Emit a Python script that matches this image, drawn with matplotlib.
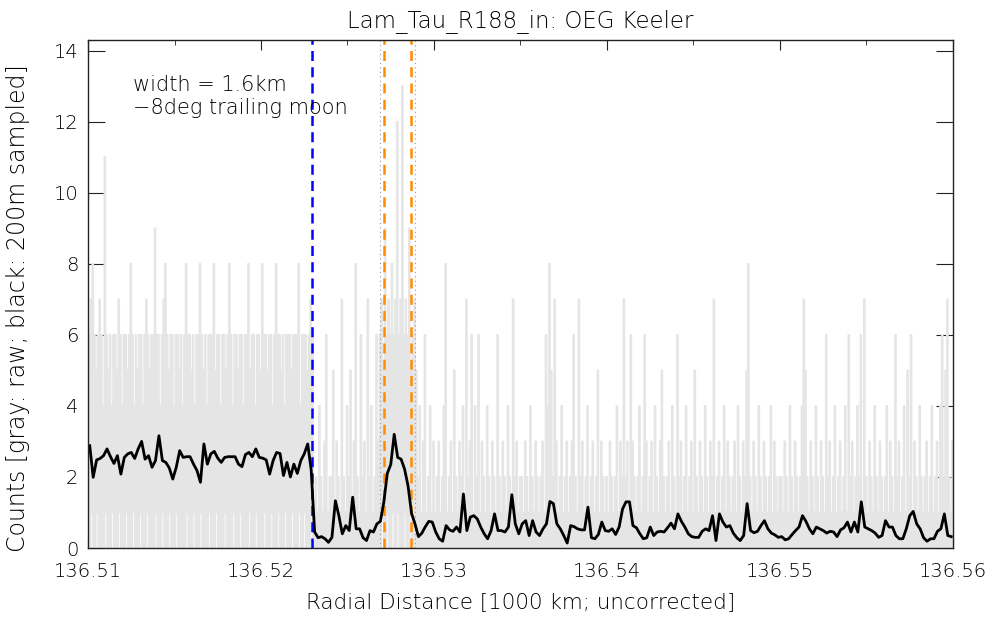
import matplotlib.pyplot as plt
import numpy as np

plt.rcParams['font.family'] = ['DejaVu Sans']
plt.rcParams['font.weight'] = 'light'
plt.rcParams['axes.titleweight'] = 'light'
plt.rcParams['axes.labelweight'] = 'light'

# smoothed profile, 200 m samples
black_start = 136.5101
black_step = 0.0002
black_counts = [
    2.88, 1.99, 2.48, 2.52, 2.60, 2.79, 2.57, 2.38, 2.60, 2.08, 2.55, 2.65, 2.69, 2.52,
    2.79, 3.00, 2.50, 2.60, 2.27, 2.46, 3.16, 2.46, 2.41, 2.25, 1.94, 2.27, 2.74, 2.55,
    2.57, 2.57, 2.36, 2.18, 1.85, 2.93, 2.36, 2.65, 2.72, 2.53, 2.41, 2.55, 2.57, 2.57,
    2.57, 2.36, 2.29, 2.63, 2.69, 2.57, 2.79, 2.55, 2.53, 2.48, 2.08, 2.46, 2.69, 2.66,
    2.04, 2.41, 2.00, 2.36, 2.10, 2.46, 2.65, 2.93, 2.20, 0.45, 0.29, 0.32, 0.26, 0.16,
    0.30, 1.33, 0.91, 0.40, 0.63, 0.49, 1.43, 0.54, 0.54, 0.29, 0.21, 0.49, 0.45, 0.68,
    0.75, 1.29, 2.10, 2.35, 3.20, 2.55, 2.50, 2.22, 1.75, 0.98, 0.68, 0.32, 0.42, 0.60,
    0.75, 0.73, 0.45, 0.26, 0.19, 0.63, 0.51, 0.47, 0.59, 0.45, 1.52, 0.49, 0.87, 0.91,
    0.82, 0.59, 0.40, 0.26, 0.49, 0.96, 0.49, 0.49, 0.45, 0.59, 1.50, 0.68, 0.40, 0.68,
    0.77, 0.35, 0.77, 0.45, 0.35, 0.54, 0.68, 1.31, 1.25, 0.68, 0.54, 0.35, 0.14, 0.63,
    0.60, 0.54, 0.51, 0.51, 1.15, 0.29, 0.26, 0.38, 0.73, 0.49, 0.47, 0.54, 0.38, 0.59,
    1.10, 1.30, 1.30, 0.63, 0.57, 0.40, 0.26, 0.29, 0.59, 0.35, 0.45, 0.47, 0.45, 0.57,
    0.70,
    0.54, 0.96, 0.75, 0.59, 0.40, 0.32, 0.30, 0.30, 0.47, 0.54, 0.49, 0.91, 0.21, 0.96,
    0.73, 0.59, 0.63, 0.42, 0.29, 0.21, 0.35, 1.25, 0.49, 0.43, 0.47, 0.63, 0.77, 0.54,
    0.42, 0.37, 0.30, 0.32, 0.23, 0.26, 0.38, 0.49, 0.59, 0.91, 0.75, 0.54, 0.40, 0.59,
    0.54, 0.49, 0.42, 0.47, 0.45, 0.32, 0.51, 0.57, 0.73, 0.45, 0.73, 0.45, 1.30, 0.59,
    0.54, 0.49, 0.42, 0.30, 0.35, 0.77, 0.59, 0.59, 0.35, 0.26, 0.26, 0.54, 0.91, 1.03,
    0.68, 0.54, 0.29, 0.19, 0.26, 0.26, 0.47, 0.54, 0.96, 0.35, 0.32,
]

# raw counts, 50 m samples, one hex digit per sample (5 km per row)
raw_start = 136.510025
raw_step = 0.00005
raw_rows = [
    "06 07 18 06 05 16 07 06 04 0b 16 05 06 04 16 06 05 07 16 04 06 06 15 06 08 06 14 06 05 06 16 04 06 07 16 05 06 06 09 16 06 04 06 17 08 06 05 16 06 04",
    "06 16 05 06 04 06 08 16 06 05 06 14 06 06 08 16 05 06 04 06 16 06 08 05 16 06 04 06 06 15 06 08 06 04 16 06 05 06 16 04 06 06 08 15 06 06 04 16 06 05",
    "08 06 16 05 06 06 14 06 08 06 16 05 06 04 16 06 06 05 16 06 06 08 14 06 06 16 05 06 07 16 01 02 01 04 02 01 03 06 01 02 02 05 01 03 02 01 07 02 01 04",
    "02 05 01 03 08 02 01 06 02 03 01 07 02 04 01 02 06 03 06 07 15 09 06 17 06 08 16 07 0c 16 07 0d 06 17 06 09 15 06 07 05 02 04 01 03 06 01 02 04 01 03",
    "01 02 03 01 02 04 08 01 02 03 01 05 02 01 03 02 04 01 07 02 03 06 01 04 02 06 01 03 02 01 04 02 01 03 02 01 06 02 01 03 02 01 04 02 01 07 02 03 01 02",
    "02 01 03 02 01 04 02 01 03 02 01 02 03 01 06 04 08 05 02 07 03 01 02 04 01 02 03 01 02 03 06 02 01 07 02 03 01 02 04 01 02 03 01 02 05 01 03 02 01 02",
    "01 03 02 01 02 04 01 03 02 07 02 03 01 06 03 02 01 02 04 01 02 06 03 01 02 03 01 04 02 01 03 05 02 01 02 03 01 04 02 01 06 02 03 01 02 04 01 02 03 01",
    "05 02 01 03 02 01 04 02 01 03 02 07 01 02 03 01 02 04 01 03 02 01 02 03 01 04 02 01 03 02 05 08 02 01 03 02 01 04 02 01 03 02 01 02 04 01 03 02 01 02",
    "02 01 03 02 01 04 02 01 03 02 01 02 04 07 05 02 01 03 02 01 04 02 01 03 02 01 06 02 03 01 02 04 01 02 03 01 02 04 01 06 02 03 01 02 04 02 06 01 07 02",
    "01 03 02 01 04 02 01 03 02 01 02 04 01 03 02 01 06 02 03 01 02 04 01 05 02 06 01 03 02 01 04 02 01 02 03 01 02 04 01 02 03 01 04 06 02 05 07 02 01 03",
]

blue_edge = 136.52293
orange_edges = [136.52713, 136.52869]
dotted_edges = [136.52686, 136.52892]

raw_counts = np.array([int(c, 16) for row in raw_rows for c in "".join(row.split())])
raw_x = raw_start + raw_step * np.arange(len(raw_counts))
black_x = black_start + black_step * np.arange(len(black_counts))

ink = '#000000'

fig = plt.figure(figsize=(9.93, 6.19), dpi=100)
ax = fig.add_axes([88 / 993, 71 / 619, 865 / 993, 508 / 619])

ax.step(raw_x, raw_counts, where='mid', color='#e5e5e5', lw=1.3)
for x in dotted_edges:
    ax.axvline(x, color='#999999', lw=0.8, ls=(0, (1, 3)))
ax.axvline(blue_edge, color='#0000ff', lw=1.8, ls=(0, (4, 2.5)))
for x in orange_edges:
    ax.axvline(x, color='#ff8c00', lw=1.8, ls=(0, (4, 2.5)))
ax.plot(black_x, black_counts, color='black', lw=2.0)

ax.set_xlim(136.51, 136.56)
ax.set_ylim(0, 14.3)
xt = np.arange(136.51, 136.5601, 0.01)
ax.set_xticks(xt)
ax.set_xticklabels(['%.2f' % v for v in xt])
ax.set_xticks(np.arange(136.515, 136.56, 0.01), minor=True)
ax.set_yticks(np.arange(0, 15, 2))

ax.tick_params(which='both', direction='in', top=True, right=True,
               labelsize=14, color='#222222', labelcolor=ink)
ax.tick_params(axis='x', which='major', length=7, pad=10)
ax.tick_params(axis='x', which='minor', length=3.5)
ax.tick_params(axis='y', which='major', length=12, pad=7)
for s in ax.spines.values():
    s.set_linewidth(1.0)
    s.set_color('#222222')

ax.set_title('Lam_Tau_R188_in: OEG Keeler', fontsize=16.5, pad=9, color=ink)
ax.set_xlabel('Radial Distance [1000 km; uncorrected]', fontsize=15.5, labelpad=8, color=ink)
ax.set_ylabel('Counts [gray: raw; black: 200m sampled]', fontsize=17, color=ink)
ax.yaxis.set_label_coords(-0.067, 0.472)

ax.text(0.052, 0.911, 'width = 1.6km', transform=ax.transAxes, fontsize=15,
        va='center', color=ink)
ax.text(0.052, 0.866, '\u22128deg trailing moon', transform=ax.transAxes, fontsize=15,
        va='center', color=ink)

fig.savefig('out.png', dpi=100)
